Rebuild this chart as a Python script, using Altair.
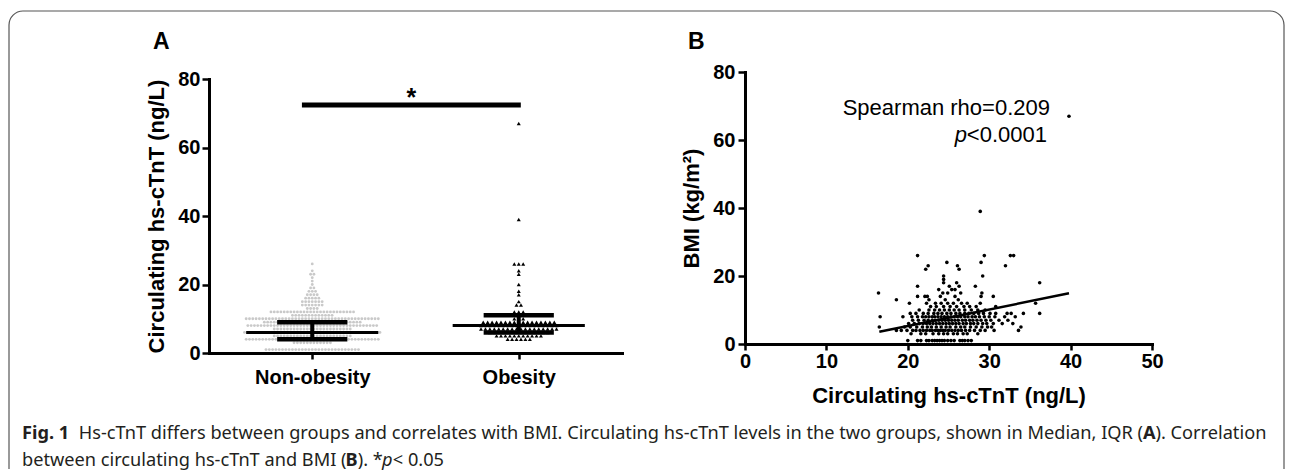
import math
import altair as alt
import pandas as pd

# ---------------- data ----------------
group_names = ["Non-obesity", "Obesity"]
group_pos = [1, 3]

nonob_values = [1, 3, 4, 5, 6, 7, 8, 9, 10, 11, 12, 13, 14, 15, 16, 17, 18, 19, 20, 21, 22, 23, 24, 26]
nonob_counts = [29, 12, 41, 24, 42, 24, 40, 30, 41, 13, 26, 4, 7, 7, 5, 4, 3, 2, 1, 1, 1, 2, 1, 1]
ob_values = [4, 5, 6, 7, 8, 9, 10, 11, 12, 14, 15, 17, 18, 20, 23, 24, 26, 39, 67]
ob_counts = [6, 11, 14, 18, 18, 17, 3, 3, 3, 2, 1, 1, 1, 1, 1, 1, 3, 1, 1]

medians = [6, 8]
q1 = [4, 6]
q3 = [9, 11]
sig_span = [0.9, 3.02]
sig_y = 72.4

scatter_levels = [1, 3, 4, 5, 6, 7, 8, 9, 10, 11, 12, 13, 14, 15, 16, 17, 18, 19, 20, 22, 23, 24, 26, 39, 67]
scatter_x_rows = [
    [20.0, 21.2, 21.6, 22.3, 22.6, 23.0, 23.3, 23.6, 23.9, 24.2, 24.5, 24.9, 25.3, 25.7, 26.4, 26.7, 27.0, 27.4, 27.8],
    [20.4, 21.6, 22.2, 23.1, 23.8, 24.4, 24.9, 25.6, 26.1, 26.8, 27.3, 28.6],
    [18.6, 19.2, 19.9, 20.6, 21.0, 21.5, 21.9, 22.3, 22.7, 23.0, 23.4, 23.7, 24.0, 24.3, 24.6, 25.0, 25.4, 25.8, 26.2, 26.6, 27.1, 27.6, 28.2, 28.9, 29.5, 30.6, 33.6],
    [16.5, 19.6, 20.3, 21.1, 21.8, 22.4, 22.9, 23.5, 24.1, 24.7, 25.2, 25.9, 26.5, 27.0, 27.7, 28.4, 29.1, 29.8, 30.3, 33.9],
    [20.1, 20.8, 21.4, 21.9, 22.3, 22.7, 23.1, 23.5, 23.9, 24.3, 24.7, 25.1, 25.5, 25.9, 26.3, 26.8, 27.2, 27.7, 28.1, 28.6, 29.2, 29.7, 30.5, 31.6, 32.9],
    [20.6, 21.3, 22.0, 22.5, 23.0, 23.4, 23.8, 24.2, 24.6, 25.0, 25.4, 25.8, 26.2, 26.7, 27.1, 27.6, 28.0, 28.5, 29.0, 29.6, 30.2, 31.2, 32.3],
    [16.6, 19.4, 20.5, 21.2, 21.8, 22.2, 22.6, 23.0, 23.3, 23.7, 24.1, 24.5, 24.9, 25.3, 25.7, 26.1, 26.5, 27.0, 27.4, 27.9, 28.3, 28.8, 29.4, 30.0, 30.7, 31.9, 33.2],
    [20.3, 21.0, 21.9, 22.5, 23.2, 23.7, 24.2, 24.8, 25.3, 25.9, 26.4, 27.0, 27.5, 28.1, 28.7, 29.3, 30.1, 30.8, 32.2, 32.7, 34.2, 36.2],
    [21.4, 22.6, 23.3, 23.9, 24.5, 25.1, 25.7, 26.3, 27.0, 27.8, 28.6, 29.5],
    [22.8, 23.5, 24.4, 25.2, 26.0, 26.9, 27.6, 28.4, 30.8],
    [20.2, 22.3, 23.4, 24.1, 24.9, 25.6, 26.6, 27.3, 28.9, 35.7],
    [18.6, 22.6, 24.6, 26.2],
    [21.2, 22.1, 22.4, 24.0, 25.8, 29.0, 30.5],
    [16.4, 24.3, 24.9, 26.5, 29.1],
    [23.8, 25.4, 25.8],
    [21.2, 25.1, 26.3, 28.3],
    [24.4, 26.0, 36.2],
    [24.4],
    [24.4, 29.2],
    [22.2, 26.3],
    [22.5, 26.1, 32.0],
    [24.8, 29.0],
    [21.2, 29.4, 32.6, 33.0],
    [28.9],
    [39.8],
]
fit_x = [16.5, 39.8]
fit_y = [3.6, 14.9]

# ---------------- layout constants ----------------
W_A, H_A = 413, 281
W_B, H_B = 407, 272
AX_FONT = "Liberation Sans"
CAP_FONT = "Noto Sans"
CAP_COLOR = "#231f20"
FRAME = "#555555"


def swarm(values, counts, center, step):
    rows = []
    for v, n in zip(values, counts):
        for i in range(n):
            rows.append({"pos": center + (i - (n - 1) / 2) * step, "value": v})
    return pd.DataFrame(rows)


non_df = swarm(nonob_values, nonob_counts, group_pos[0], 0.032)
ob_df = swarm(ob_values, ob_counts, group_pos[1], 0.043)

median_df = pd.DataFrame({"pos": [p - 0.64 for p in group_pos], "pos2": [p + 0.64 for p in group_pos], "value": medians})
caps_df = pd.DataFrame({
    "pos": [p - 0.34 for p in group_pos] * 2,
    "pos2": [p + 0.34 for p in group_pos] * 2,
    "value": q1 + q3,
})
whisk_df = pd.DataFrame({"pos": group_pos, "value": q1, "value2": q3})
sig_df = pd.DataFrame({"pos": [sig_span[0]], "pos2": [sig_span[1]], "value": [sig_y]})
star_df = pd.DataFrame({"pos": [(sig_span[0] + sig_span[1]) / 2], "value": [sig_y]})
one = pd.DataFrame({"k": [0]})

label_expr = f"datum.value == {group_pos[0]} ? '{group_names[0]}' : '{group_names[1]}'"

xA = alt.X("pos:Q", scale=alt.Scale(domain=[0, 4], nice=False, zero=False),
           axis=alt.Axis(values=group_pos, labelExpr=label_expr, title=None, tickSize=6,
                         labelPadding=8, labelFlush=False, domainCap="square"))
yA = alt.Y("value:Q", scale=alt.Scale(domain=[0, 80], range=[H_A, 7], nice=False, zero=True),
           axis=alt.Axis(values=[0, 20, 40, 60, 80], title="Circulating hs-cTnT (ng/L)", tickSize=7,
                         labelPadding=2, titlePadding=9, domainCap="square"))

gray = alt.Chart(non_df).mark_circle(size=8, color="#c9c9c9", opacity=1).encode(x=xA, y=yA)
tri = alt.Chart(ob_df).mark_point(shape="triangle-up", filled=True, size=16, color="black", opacity=1).encode(
    x="pos:Q", y="value:Q")
med = alt.Chart(median_df).mark_rule(color="black", strokeWidth=3).encode(x="pos:Q", x2="pos2", y="value:Q")
caps = alt.Chart(caps_df).mark_rule(color="black", strokeWidth=4.5).encode(x="pos:Q", x2="pos2", y="value:Q")
whisk = alt.Chart(whisk_df).mark_rule(color="black", strokeWidth=4).encode(x="pos:Q", y="value:Q", y2="value2")
sig = alt.Chart(sig_df).mark_rule(color="black", strokeWidth=5).encode(x="pos:Q", x2="pos2", y="value:Q")
star = alt.Chart(star_df).mark_text(text="*", font=AX_FONT, fontWeight="bold", fontSize=25, baseline="alphabetic",
                                    dy=1, color="black").encode(x="pos:Q", y="value:Q")
letter_a = alt.Chart(one).mark_text(text="A", font=AX_FONT, fontWeight="bold", fontSize=23, align="left",
                                    baseline="alphabetic", color="black").encode(x=alt.value(-56), y=alt.value(-23))

# frame (relative to panel A origin)
fl, ft, fr, fb, rad = -200, -61, 1075, 397, 14
frame_left = alt.Chart(one).mark_rule(color=FRAME, strokeWidth=1.2).encode(
    x=alt.value(fl), y=alt.value(ft + rad), y2=alt.value(fb))
frame_right = alt.Chart(one).mark_rule(color=FRAME, strokeWidth=1.2).encode(
    x=alt.value(fr), y=alt.value(ft + rad), y2=alt.value(fb))
frame_top = alt.Chart(one).mark_rule(color=FRAME, strokeWidth=1.2).encode(
    x=alt.value(fl + rad), x2=alt.value(fr - rad), y=alt.value(ft))
corner_l = alt.Chart(one).mark_arc(innerRadius=rad - 0.6, outerRadius=rad + 0.6, theta=1.5 * math.pi,
                                   theta2=2 * math.pi, color=FRAME).encode(
    x=alt.value(fl + rad), y=alt.value(ft + rad))
corner_r = alt.Chart(one).mark_arc(innerRadius=rad - 0.6, outerRadius=rad + 0.6, theta=0,
                                   theta2=0.5 * math.pi, color=FRAME).encode(
    x=alt.value(fr - rad), y=alt.value(ft + rad))

# caption (relative to panel A origin)
def cap(text, x, y, weight="normal", style="normal", align="left"):
    return alt.Chart(one).mark_text(text=text, font=CAP_FONT, fontSize=18.2, fontWeight=weight, fontStyle=style,
                                    align=align, baseline="alphabetic", color=CAP_COLOR).encode(
        x=alt.value(x), y=alt.value(y))

L1, L2 = 367, 394
caption = [
    cap("Fig. 1", -187, L1, weight="bold"),
    cap("Hs-cTnT differs between groups and correlates with BMI. Circulating hs-cTnT levels in the two groups, shown in Median, IQR (",
        934, L1, align="right"),
    cap("A", 934, L1, weight="bold"),
    cap("). Correlation", 946.5, L1),
    cap("between circulating hs-cTnT and BMI (", -187, L2),
    cap("B", 136.5, L2, weight="bold"),
    cap("). *", 148.8, L2),
    cap("p", 173, L2, style="italic"),
    cap("< 0.05", 183.8, L2),
]

panel_a = alt.layer(gray, tri, med, caps, whisk, sig, star, letter_a,
                    frame_left, frame_right, frame_top, corner_l, corner_r, *caption).properties(
    width=W_A, height=H_A)

# ---------------- panel B ----------------
sc_x, sc_y = [], []
for lvl, xs in zip(scatter_levels, scatter_x_rows):
    for xv in xs:
        sc_x.append(xv)
        sc_y.append(lvl)
scatter_df = pd.DataFrame({"x": sc_x, "y": sc_y})
fit_df = pd.DataFrame({"x": fit_x, "y": fit_y})

xB = alt.X("x:Q", scale=alt.Scale(domain=[0, 50], nice=False),
           axis=alt.Axis(values=[0, 10, 20, 30, 40, 50], title="Circulating hs-cTnT (ng/L)", tickSize=6,
                         labelPadding=1, titlePadding=14, labelFlush=False, domainCap="square"))
yB = alt.Y("y:Q", scale=alt.Scale(domain=[0, 80], nice=False),
           axis=alt.Axis(values=[0, 20, 40, 60, 80], title="BMI (kg/m²)", tickSize=7,
                         labelPadding=3, titlePadding=9, domainCap="square"))

pts = alt.Chart(scatter_df).mark_circle(size=13, color="black", opacity=1).encode(x=xB, y=yB)
fit = alt.Chart(fit_df).mark_line(color="black", strokeWidth=2.5).encode(x="x:Q", y="y:Q")
ann_df = pd.DataFrame({"x": [37.47], "y": [67.35]})
ann2_df = pd.DataFrame({"x": [37.1], "y": [59.5]})
ann1 = alt.Chart(ann_df).mark_text(text="Spearman rho=0.209", font=AX_FONT, fontSize=22, align="right",
                                   baseline="alphabetic", color="black").encode(x="x:Q", y="y:Q")
ann2 = alt.Chart(ann2_df).mark_text(text="<0.0001", font=AX_FONT, fontSize=22, align="right",
                                    baseline="alphabetic", color="black").encode(x="x:Q", y="y:Q")
ann3 = alt.Chart(ann2_df).mark_text(text="p", font=AX_FONT, fontSize=22, fontStyle="italic", align="right",
                                    baseline="alphabetic", dx=-80, color="black").encode(x="x:Q", y="y:Q")
letter_b = alt.Chart(one).mark_text(text="B", font=AX_FONT, fontWeight="bold", fontSize=23, align="left",
                                    baseline="alphabetic", color="black").encode(x=alt.value(-57), y=alt.value(-23))

panel_b = alt.layer(pts, fit, ann1, ann2, ann3, letter_b).properties(width=W_B, height=H_B)

chart = alt.hconcat(panel_a, panel_b, spacing=123, bounds="flush").properties(
    padding={"left": 0, "top": 2, "right": 0, "bottom": 0},
    background="white",
).configure_view(stroke=None).configure_axis(
    grid=False,
    domainColor="black", domainWidth=3,
    tickColor="black", tickWidth=2.5,
    labelFont=AX_FONT, labelFontWeight="bold", labelFontSize=20, labelColor="black",
    titleFont=AX_FONT, titleFontWeight="bold", titleFontSize=22, titleColor="black",
)

chart.save("out.html", embed_options={"renderer": "svg", "actions": False})
